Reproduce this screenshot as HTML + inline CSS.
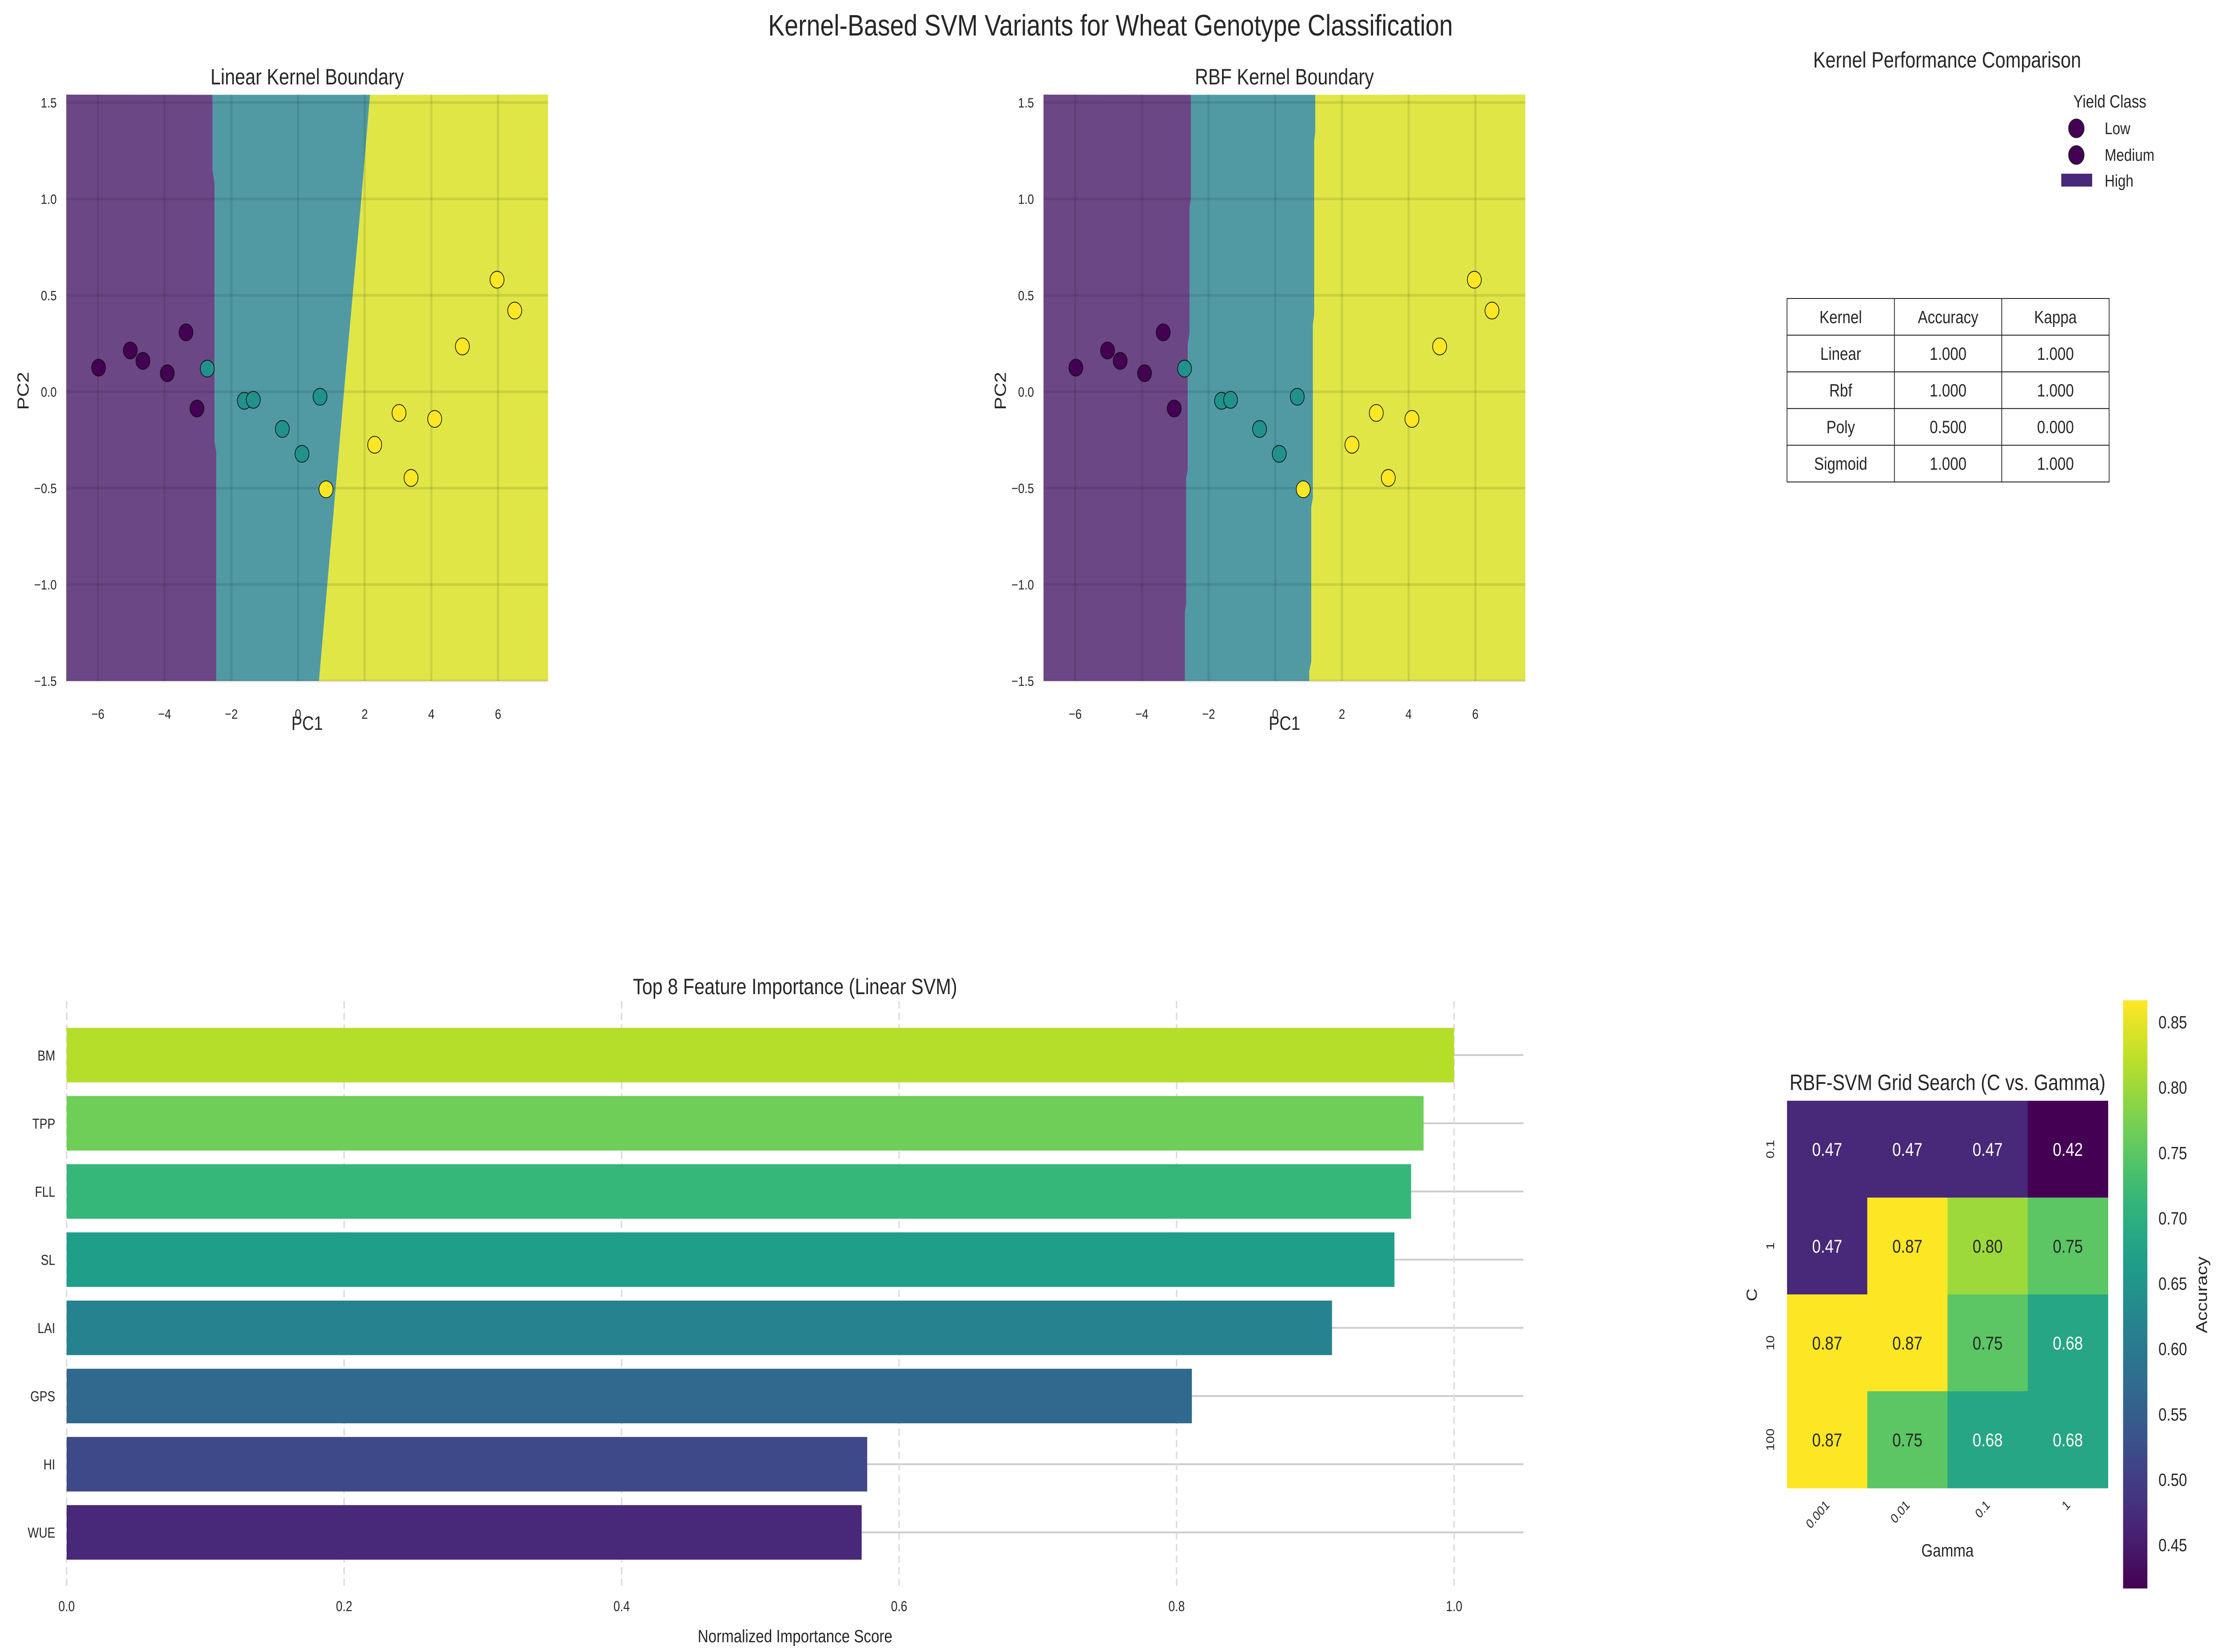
<!DOCTYPE html>
<html><head><meta charset="utf-8">
<style>
html,body{margin:0;padding:0;background:#fff;width:100%;height:100%;overflow:hidden;}
svg{display:block;position:absolute;left:0;top:0;width:100vw;height:100vh;font-family:"Liberation Sans",Arial,sans-serif;}
</style></head>
<body>
<svg id="fig" xmlns="http://www.w3.org/2000/svg" viewBox="0 0 6034 3719" preserveAspectRatio="none" overflow="hidden">
<rect x="0" y="0" width="6034" height="3719" fill="#ffffff"/>
<text x="3017" y="80" font-size="67" fill="#262626" text-anchor="middle">Kernel-Based SVM Variants for Wheat Genotype Classification</text>
<g id="linear"></g>
<g id="rbf"></g>
<g id="perf">
  <text x="5290" y="152" font-size="50" fill="#262626" text-anchor="middle">Kernel Performance Comparison</text>
  <g>
    <text x="5732" y="242" font-size="40" fill="#262626" text-anchor="middle">Yield Class</text>
    <circle cx="5641" cy="289" r="21" fill="#440154" stroke="#222" stroke-width="2"/>
    <text x="5718" y="302" font-size="38" fill="#262626">Low</text>
    <circle cx="5641" cy="349" r="21" fill="#440154" stroke="#222" stroke-width="2"/>
    <text x="5718" y="362" font-size="38" fill="#262626">Medium</text>
    <rect x="5600" y="391" width="84" height="29" fill="#482878"/>
    <text x="5718" y="420" font-size="38" fill="#262626">High</text>
  </g>
  <g id="table"></g>
</g>
<g id="bars"></g>
<g id="heat"></g>
</svg>
<script>
// ---------- data ----------
const lowX = [-5.98, -5.03, -4.65, -3.92, -3.36, -3.03];
const lowY = [0.125, 0.214, 0.16, 0.096, 0.308, -0.087];
const medX = [-2.72, -1.61, -1.34, -0.47, 0.12, 0.66];
const medY = [0.12, -0.047, -0.042, -0.193, -0.322, -0.026];
const highX = [0.84, 2.30, 3.03, 3.39, 4.10, 4.93, 5.97, 6.50];
const highY = [-0.506, -0.275, -0.11, -0.447, -0.141, 0.235, 0.581, 0.421];
const linB1 = [[-2.56,1.54],[-2.56,1.15],[-2.50,1.08],[-2.50,-0.26],[-2.45,-0.31],[-2.45,-1.5]];
const linB2 = [[2.16,1.54],[1.9,1.0],[1.38,0.0],[0.63,-1.5]];
const rbfB1 = [[-2.53,1.54],[-2.53,1.0],[-2.57,0.95],[-2.57,0.3],[-2.62,0.25],[-2.62,-0.4],[-2.67,-0.45],[-2.67,-1.1],[-2.71,-1.15],[-2.71,-1.5]];
const rbfB2 = [[1.2,1.54],[1.2,1.35],[1.17,1.3],[1.17,0.4],[1.13,0.35],[1.13,-0.55],[1.08,-0.6],[1.08,-1.4],[1.02,-1.45],[1.02,-1.5]];
const xTicks = [-6, -4, -2, 0, 2, 4, 6];
const yTicks = [-1.5, -1.0, -0.5, 0.0, 0.5, 1.0, 1.5];
const yTickLabels = ["\u22121.5","\u22121.0","\u22120.5","0.0","0.5","1.0","1.5"];
const xTickLabels = ["\u22126","\u22124","\u22122","0","2","4","6"];

const tableHeader = ["Kernel","Accuracy","Kappa"];
const tableKernels = ["Linear","Rbf","Poly","Sigmoid"];
const tableAcc = ["1.000","1.000","0.500","1.000"];
const tableKappa = ["1.000","1.000","0.000","1.000"];

const features = ["BM","TPP","FLL","SL","LAI","GPS","HI","WUE"];
const importance = [1.0, 0.978, 0.969, 0.957, 0.912, 0.811, 0.577, 0.573];
const barColors = ["#b5de2b","#6ece58","#35b779","#1f9e89","#26828e","#31688e","#3e4989","#482878"];
const barTicks = [0.0, 0.2, 0.4, 0.6, 0.8, 1.0];
const barTickLabels = ["0.0","0.2","0.4","0.6","0.8","1.0"];

const gammaLabels = ["0.001","0.01","0.1","1"];
const cLabels = ["0.1","1","10","100"];
const accRow0 = [0.4667, 0.4667, 0.4667, 0.4167];
const accRow1 = [0.4667, 0.8667, 0.8, 0.75];
const accRow2 = [0.8667, 0.8667, 0.75, 0.6833];
const accRow3 = [0.8667, 0.75, 0.6833, 0.6833];
const cbTicks = [0.45,0.50,0.55,0.60,0.65,0.70,0.75,0.80,0.85];

// ---------- helpers ----------
const NS = "http://www.w3.org/2000/svg";
function mk(parent, tag, attrs, text) {
  const e = document.createElementNS(NS, tag);
  for (const k in attrs) e.setAttribute(k, attrs[k]);
  if (text !== undefined) e.textContent = text;
  parent.appendChild(e);
  return e;
}
const VIR = [[68,1,84],[72,40,120],[62,73,137],[49,104,142],[38,130,142],[31,158,137],[53,183,121],[110,206,88],[181,222,43],[253,231,37]];
function viridis(t) {
  t = Math.max(0, Math.min(1, t));
  const p = t * (VIR.length - 1), i = Math.min(Math.floor(p), VIR.length - 2), f = p - i;
  const c = VIR[i].map((v, k) => Math.round(v + (VIR[i + 1][k] - v) * f));
  return "rgb(" + c.join(",") + ")";
}

// ---------- scatter panels ----------
function scatterPanel(gid, left, title, b1, b2) {
  const g = document.getElementById(gid);
  const top = 213, w = 1309, h = 1320;
  const xmin = -6.95, xmax = 7.5, ymin = -1.5, ymax = 1.541;
  const sx = v => left + (v - xmin) / (xmax - xmin) * w;
  const sy = v => top + (ymax - v) / (ymax - ymin) * h;
  const pts = arr => arr.map(p => sx(p[0]) + "," + sy(p[1])).join(" ");
  const t = mk(g, "text", {x: left + w / 2, y: 190, "font-size": 50, fill: "#262626", "text-anchor": "middle"}, title);
  
  
  const rp = mk(g, "polygon", {points: sx(xmin) + "," + sy(ymax) + " " + pts(b1) + " " + sx(xmin) + "," + sy(ymin), fill: "#6c4786"});
  
  
  const rb2 = b2.slice().reverse();
  const rt = mk(g, "polygon", {points: pts(b1) + " " + pts(rb2), fill: "#519aa4"});
  
  
  const ry = mk(g, "polygon", {points: pts(b2) + " " + sx(xmax) + "," + sy(ymin) + " " + sx(xmax) + "," + sy(ymax), fill: "#dfe646"});
  
  
  xTicks.forEach((v, i) => {
    const l = mk(g, "line", {x1: sx(v), x2: sx(v), y1: top, y2: top + h, stroke: "rgba(0,0,0,0.09)", "stroke-width": 6});
    
    
    const tl = mk(g, "text", {x: sx(v), y: 1618, "font-size": 31, fill: "#262626", "text-anchor": "middle"}, xTickLabels[i]);
    
    
  });
  yTicks.forEach((v, i) => {
    const l = mk(g, "line", {x1: left, x2: left + w, y1: sy(v), y2: sy(v), stroke: "rgba(0,0,0,0.09)", "stroke-width": 6});
    
    
    const tl = mk(g, "text", {x: left - 26, y: sy(v) + 11, "font-size": 31, fill: "#262626", "text-anchor": "end"}, yTickLabels[i]);
    
    
  });
  const groups = [[lowX, lowY, "#440154", "point-low"], [medX, medY, "#21918c", "point-medium"], [highX, highY, "#fde725", "point-high"]];
  groups.forEach(gr => {
    gr[0].forEach((xv, i) => {
      const c = mk(g, "circle", {cx: sx(xv), cy: sy(gr[1][i]), r: 19, fill: gr[2], stroke: "#111", "stroke-width": 1.8});
      
      
    });
  });
  const xl = mk(g, "text", {x: left + w / 2, y: 1643, "font-size": 44, fill: "#262626", "text-anchor": "middle"}, "PC1");
  
  
  const yx = left - 117;
  const yl = mk(g, "text", {x: yx, y: 880, "font-size": 44, fill: "#262626", "text-anchor": "middle", transform: "rotate(-90 " + yx + " 880)", dy: "15"}, "PC2");
  
  
}
scatterPanel("linear", 180, "Linear Kernel Boundary", linB1, linB2);
scatterPanel("rbf", 2835, "RBF Kernel Boundary", rbfB1, rbfB2);

// ---------- table ----------
(function () {
  const g = document.getElementById("table");
  const left = 4855, top = 672, cw = 291.7, rh = 82.6;
  const rows = [tableHeader].concat(tableKernels.map((k, i) => [k, tableAcc[i], tableKappa[i]]));
  rows.forEach((r, ri) => {
    r.forEach((txt, ci) => {
      const cell = mk(g, "rect", {x: left + ci * cw, y: top + ri * rh, width: cw, height: rh, fill: "#fff", stroke: "#222", "stroke-width": 2});
      
      
      const t = mk(g, "text", {x: left + ci * cw + cw / 2, y: top + ri * rh + rh / 2 + 14, "font-size": 40, fill: "#262626", "text-anchor": "middle"}, txt);
      
      
    });
  });
})();

// ---------- bar chart ----------
(function () {
  const g = document.getElementById("bars");
  const left = 181, right = 4139, top = 2254, bottom = 3571;
  const xmax = 1.05, y0 = -0.79, y1 = 7.79;
  const sx = v => left + v / xmax * (right - left);
  const sy = v => top + (v - y0) / (y1 - y0) * (bottom - top);
  const t = mk(g, "text", {x: (left + right) / 2, y: 2238, "font-size": 50, fill: "#262626", "text-anchor": "middle"}, "Top 8 Feature Importance (Linear SVM)");
  
  
  features.forEach((f, i) => {
    const l = mk(g, "line", {x1: left, x2: right, y1: sy(i), y2: sy(i), stroke: "#cccccc", "stroke-width": 4});
    
    
  });
  barTicks.forEach((v, i) => {
    const l = mk(g, "line", {x1: sx(v), x2: sx(v), y1: top, y2: bottom, stroke: "#dcdcdc", "stroke-width": 4, "stroke-dasharray": "16,10"});
    
    
    const tl = mk(g, "text", {x: sx(v), y: 3627, "font-size": 32, fill: "#262626", "text-anchor": "middle"}, barTickLabels[i]);
    
    
  });
  features.forEach((f, i) => {
    const bh = 0.8 * (sy(1) - sy(0));
    const r = mk(g, "rect", {x: sx(0), y: sy(i) - bh / 2, width: sx(importance[i]) - sx(0), height: bh, fill: barColors[i]});
    
    
    const tl = mk(g, "text", {x: 150, y: sy(i) + 12, "font-size": 32, fill: "#262626", "text-anchor": "end"}, f);
    
    
  });
  const xl = mk(g, "text", {x: (left + right) / 2, y: 3697, "font-size": 40, fill: "#262626", "text-anchor": "middle"}, "Normalized Importance Score");
  
  
})();

// ---------- heatmap ----------
(function () {
  const g = document.getElementById("heat");
  const left = 4855, top = 2478, cs = 218;
  const grid = [accRow0, accRow1, accRow2, accRow3];
  const all = grid.flat();
  const vmin = Math.min.apply(null, all), vmax = Math.max.apply(null, all);
  const norm = v => (v - vmin) / (vmax - vmin);
  const t = mk(g, "text", {x: left + 2 * cs, y: 2454, "font-size": 50, fill: "#262626", "text-anchor": "middle"}, "RBF-SVM Grid Search (C vs. Gamma)");
  
  
  grid.forEach((row, r) => {
    row.forEach((v, c) => {
      const rc = mk(g, "rect", {x: left + c * cs, y: top + r * cs, width: cs + 0.5, height: cs + 0.5, fill: viridis(norm(v))});
      
      
      const tx = mk(g, "text", {x: left + c * cs + cs / 2, y: top + r * cs + cs / 2 + 15, "font-size": 42, fill: norm(v) > 0.62 ? "#262626" : "#ffffff", "text-anchor": "middle"}, v.toFixed(2));
      
      
    });
  });
  cLabels.forEach((lab, i) => {
    const cx = 4820, cy = top + i * cs + cs / 2;
    const tl = mk(g, "text", {x: cx, y: cy, "font-size": 30, fill: "#262626", "text-anchor": "middle", transform: "rotate(-90 " + cx + " " + cy + ")"}, lab);
    
    
  });
  gammaLabels.forEach((lab, i) => {
    const cx = left + i * cs + cs / 2 + 8, cy = 3390;
    const tl = mk(g, "text", {x: cx, y: cy, "font-size": 30, fill: "#262626", "text-anchor": "end", transform: "rotate(-45 " + cx + " " + cy + ")"}, lab);
    
    
  });
  const xl = mk(g, "text", {x: left + 2 * cs, y: 3504, "font-size": 40, fill: "#262626", "text-anchor": "middle"}, "Gamma");
  
  
  const yl = mk(g, "text", {x: 4758, y: 2930, "font-size": 40, fill: "#262626", "text-anchor": "middle", transform: "rotate(-90 4758 2915)"}, "C");
  
  
  const cbx = 5768, cbw = 66, cbt = 2252, cbb = 3576;
  const defs = mk(g, "defs", {});
  const lg = mk(defs, "linearGradient", {id: "cbgrad", x1: "0", y1: "1", x2: "0", y2: "0"});
  for (let i = 0; i <= 20; i++) mk(lg, "stop", {offset: (i / 20), "stop-color": viridis(i / 20)});
  const cb = mk(g, "rect", {x: cbx, y: cbt, width: cbw, height: cbb - cbt, fill: "url(#cbgrad)"});
  
  
  const cy = v => cbb - (v - vmin) / (vmax - vmin) * (cbb - cbt);
  cbTicks.forEach(v => {
    const tl = mk(g, "text", {x: 5864, y: cy(v) + 14, "font-size": 40, fill: "#262626"}, v.toFixed(2));
    
    
  });
  const al = mk(g, "text", {x: 5981, y: 2915, "font-size": 42, fill: "#262626", "text-anchor": "middle", dy: "15", transform: "rotate(-90 5981 2915)"}, "Accuracy");
  
  
})();
</script>
</body></html>
